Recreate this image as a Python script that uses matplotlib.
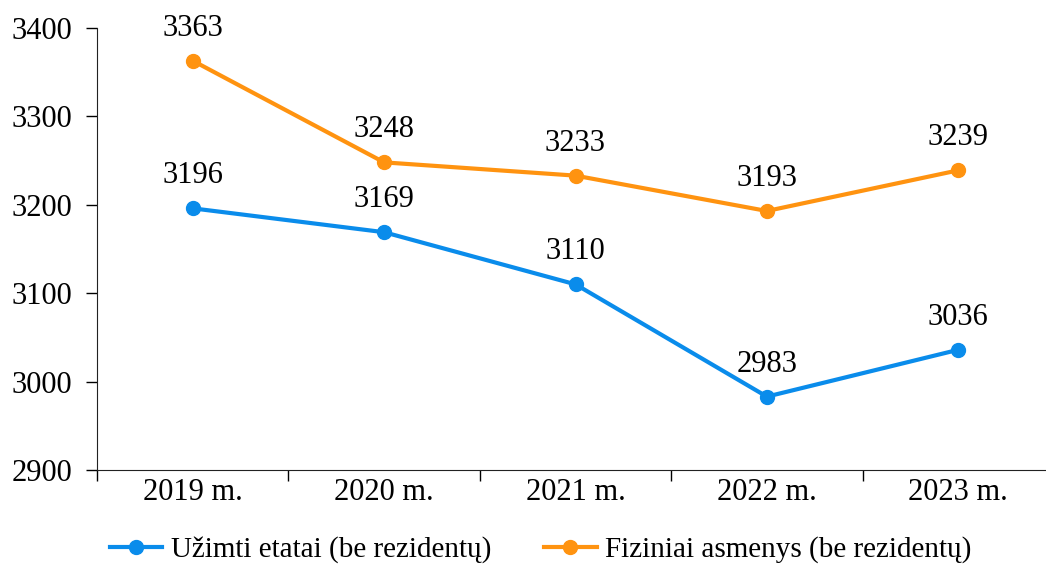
import matplotlib.pyplot as plt

# Duomenys
metai = ["2019 m.", "2020 m.", "2021 m.", "2022 m.", "2023 m."]
uzimti_etatai = [3196, 3169, 3110, 2983, 3036]
fiziniai_asmenys = [3363, 3248, 3233, 3193, 3239]

plt.rcParams['font.family'] = ['Liberation Serif', 'DejaVu Serif']

W, H = 1046, 570
fig = plt.figure(figsize=(W / 100, H / 100), dpi=100)
ax = fig.add_axes([97 / W, 1 - 470 / H, 957 / W, 442 / H])

x = list(range(len(metai)))
ax.plot(x, uzimti_etatai, color='#0A8CEB', lw=3, marker='o', ms=10,
        label='Užimti etatai (be rezidentų)')
ax.plot(x, fiziniai_asmenys, color='#FF9310', lw=3, marker='o', ms=10,
        label='Fiziniai asmenys (be rezidentų)')

# Reikšmės virš taškų
for xi, v in zip(x, uzimti_etatai):
    ax.annotate(str(v), (xi, v), xytext=(0, 13), textcoords='offset points',
                ha='center', va='bottom', fontsize=22)
for xi, v in zip(x, fiziniai_asmenys):
    ax.annotate(str(v), (xi, v), xytext=(0, 13), textcoords='offset points',
                ha='center', va='bottom', fontsize=22)

ax.set_xlim(-0.5, len(metai) - 0.5)
ax.set_ylim(2900, 3400)
ax.set_yticks(range(2900, 3401, 100))
ax.set_xticks(x)
ax.set_xticklabels(metai)
ax.set_xticks([i - 0.5 for i in x], minor=True)
ax.tick_params(axis='x', which='major', length=0, labelsize=22, pad=6)
ax.tick_params(axis='x', which='minor', length=8, width=1, direction='out')
ax.tick_params(axis='y', length=8, width=1, direction='out', labelsize=22, pad=10)

for s in ['top', 'right']:
    ax.spines[s].set_visible(False)
ax.spines['left'].set_color('#222222')
ax.spines['bottom'].set_color('#222222')

fig.legend(loc='center', bbox_to_anchor=(0.517, 1 - 550 / H), ncol=2, frameon=False,
           fontsize=21, handlelength=1.8, handletextpad=0.3, columnspacing=1.8,
           borderaxespad=0)

fig.savefig('out.png', dpi=100)
